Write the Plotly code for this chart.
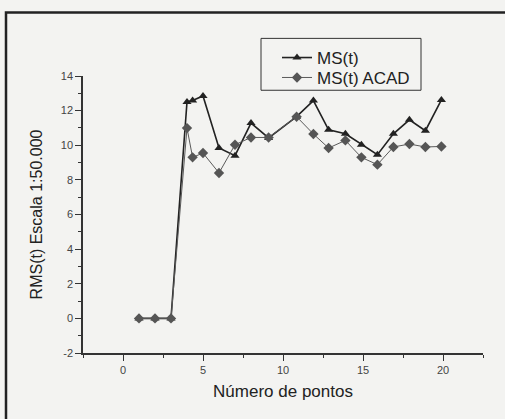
import plotly.graph_objects as go

x_pts = [1, 2, 3, 4, 4.35, 5, 6, 7, 8, 9.1, 10.85, 11.9, 12.85, 13.9, 14.9, 15.9, 16.9, 17.9, 18.9, 19.9]
ms_t = [0, 0, 0, 12.5, 12.58, 12.85, 9.84, 9.4, 11.28, 10.42, 11.65, 12.58, 10.89, 10.66, 10.03, 9.45, 10.66, 11.47, 10.84, 12.62]
ms_acad = [0, 0, 0, 10.99, 9.3, 9.55, 8.4, 10.03, 10.45, 10.45, 11.65, 10.65, 9.84, 10.28, 9.3, 8.88, 9.9, 10.07, 9.9, 9.93]

x_ticks = [0, 5, 10, 15, 20]
y_ticks = [-2, 0, 2, 4, 6, 8, 10, 12, 14]
y_tick_labels = ["-2", "0", "2", "4", "6", "8", "10", "12", "14"]

font_family = "Liberation Sans, Arial, sans-serif"

fig = go.Figure()
fig.add_trace(go.Scatter(
    x=x_pts, y=ms_t, name="MS(t)", mode="lines+markers",
    line=dict(color="#222222", width=1.6),
    marker=dict(symbol="triangle-up", size=8, color="#222222"),
    legend="legend",
))
fig.add_trace(go.Scatter(
    x=x_pts, y=ms_acad, name="MS(t) ACAD", mode="lines+markers",
    line=dict(color="#5a5a5a", width=1),
    marker=dict(symbol="diamond", size=8, color="#555555"),
    legend="legend2",
))

axis_common = dict(
    showline=True, linecolor="#333333", linewidth=1.5,
    ticks="outside", ticklen=6, tickcolor="#333333", tickwidth=1,
    showgrid=False, zeroline=False, mirror=False,
    tickfont=dict(size=11, color="#444444", family=font_family),
)

legend_common = dict(
    xanchor="left", yanchor="top",
    borderwidth=0, bgcolor="rgba(0,0,0,0)",
    font=dict(size=17, family=font_family, color="#222222"),
)

fig.update_layout(
    width=505, height=419,
    margin=dict(l=83, r=22, t=76, b=66),
    paper_bgcolor="#f3f3f1", plot_bgcolor="#f3f3f1",
    font=dict(family=font_family, color="#222222"),
    xaxis=dict(
        range=[-2.5, 22.5], tickvals=x_ticks,
        minor=dict(dtick=2.5, tick0=0, ticks="outside", ticklen=3, tickcolor="#333333"),
        title=dict(text="Número de pontos", font=dict(size=17, family=font_family), standoff=10),
        **axis_common,
    ),
    yaxis=dict(
        range=[-2, 14], tickvals=y_ticks, ticktext=y_tick_labels,
        minor=dict(dtick=1, tick0=0, ticks="outside", ticklen=3, tickcolor="#333333"),
        title=dict(text="RMS(t) Escala 1:50.000", font=dict(size=16, family=font_family), standoff=14),
        **axis_common,
    ),
    showlegend=True,
    legend=dict(x=0.485, y=1.13, **legend_common),
    legend2=dict(x=0.485, y=1.058, **legend_common),
    shapes=[
        dict(
            type="rect", xref="paper", yref="paper",
            x0=-0.1925, x1=1.06, y0=-0.3, y1=1.2295,
            line=dict(color="#222222", width=2.5), fillcolor="rgba(0,0,0,0)",
            layer="below",
        ),
        dict(
            type="rect", xref="paper", yref="paper",
            x0=0.445, x1=0.845, y0=0.9485, y1=1.1358,
            line=dict(color="#333333", width=1), fillcolor="rgba(0,0,0,0)",
        ),
    ],
)

fig.write_html("out.html", config={"displayModeBar": False},
               post_script="document.body.style.margin='0';document.body.style.overflow='hidden';")
